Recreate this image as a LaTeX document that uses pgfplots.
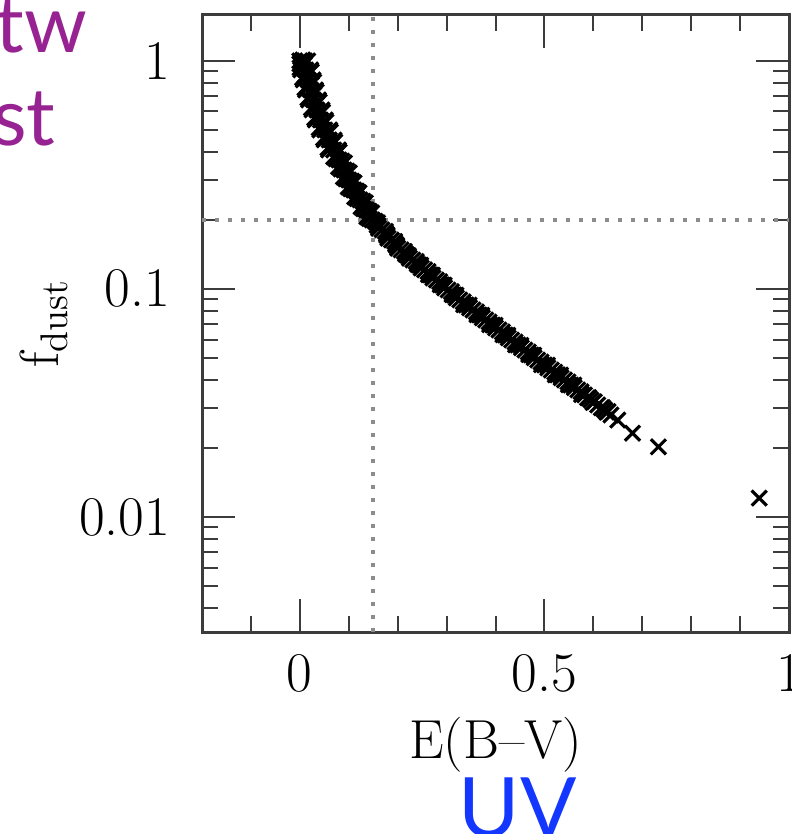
\documentclass[border=0pt]{standalone}
\usepackage{fontspec}
\usepackage{pgfplots}
\pgfplotsset{compat=1.18}
\newfontfamily\latofont{Lato}
\definecolor{slidepurple}{RGB}{150,35,145}
\definecolor{slideblue}{RGB}{20,55,255}
\definecolor{framegray}{RGB}{60,60,60}
\pgfplotsset{bandpt/.style={only marks, mark=x, mark size=3.2pt, mark options={line width=0.95pt, black}}}

\begin{document}
\begin{tikzpicture}
\begin{axis}[
  name=ax,
  scale only axis,
  width=176.1pt, height=185.1pt,
  xmin=-0.2, xmax=1.0,
  ymode=log, ymin=0.00313, ymax=1.59,
  xtick={0,0.5,1}, xticklabels={0,0.5,1},
  minor xtick={-0.1,0.1,0.2,0.3,0.4,0.6,0.7,0.8,0.9},
  ytick={0.01,0.1,1}, yticklabels={0.01,0.1,1},
  minor ytick={0.004,0.005,0.006,0.007,0.008,0.009,0.02,0.03,0.04,0.05,0.06,0.07,0.08,0.09,0.2,0.3,0.4,0.5,0.6,0.7,0.8,0.9},
  tick align=inside,
  xtick pos=both, ytick pos=both,
  major tick length=9.8pt, minor tick length=4.8pt,
  tick label style={font=\fontsize{16.8}{20}\selectfont},
  xticklabel shift=3.2pt, yticklabel shift=6pt,
  axis line style={line width=0.9pt, framegray},
  every tick/.style={line width=0.6pt, framegray},
  xlabel={E(B--V)},
  ylabel={$\mathrm{f_{dust}}$},
  label style={font=\fontsize{16.5}{20}\selectfont},
  xlabel style={at={(axis description cs:0.5,-0.183)}, anchor=center},
  ylabel style={at={(axis description cs:-0.269,0.5)}, anchor=center},
]
% dotted reference lines
\addplot[black!45, line width=1.2pt, dash pattern=on 1.2pt off 2.7pt] coordinates {(0.15,0.00313) (0.15,1.59)};
\addplot[black!45, line width=1.2pt, dash pattern=on 1.2pt off 2.7pt] coordinates {(-0.2,0.2) (1.0,0.2)};
% band of points (centre)
\addplot[bandpt] table {
x y
0.006 1.010
0.009 0.9604
0.012 0.9131
0.014 0.8681
0.017 0.8254
0.019 0.7847
0.022 0.7461
0.025 0.7093
0.028 0.6744
0.031 0.6412
0.035 0.6096
0.039 0.5796
0.042 0.5510
0.046 0.5239
0.051 0.4981
0.055 0.4736
0.060 0.4502
0.065 0.4281
0.069 0.4070
0.074 0.3870
0.080 0.3679
0.085 0.3498
0.090 0.3326
0.095 0.3162
0.100 0.3006
0.105 0.2858
0.110 0.2718
0.117 0.2584
0.123 0.2457
0.129 0.2336
0.136 0.2221
0.142 0.2111
0.148 0.2007
0.158 0.1909
0.168 0.1815
0.178 0.1725
0.187 0.1640
0.197 0.1560
0.207 0.1483
0.219 0.1410
0.231 0.1340
0.243 0.1274
0.255 0.1212
0.267 0.1152
0.279 0.1095
0.291 0.1041
0.303 0.0990
0.315 0.0941
0.327 0.0895
0.340 0.0851
0.354 0.0809
0.367 0.0769
0.380 0.0731
0.394 0.0695
0.407 0.0661
0.420 0.0628
0.433 0.0597
0.446 0.0568
0.460 0.0540
0.473 0.0513
0.486 0.0488
0.500 0.0464
0.514 0.0441
0.527 0.0420
0.541 0.0399
0.554 0.0379
0.568 0.0361
0.582 0.0343
0.595 0.0326
0.609 0.0310
0.623 0.0295
0.636 0.0280
0.650 0.0266
0.680 0.0233
0.733 0.0203
0.939 0.0121
};
% inner upper-left points
\addplot[bandpt] table {
x y
0.000 1.000
0.000 0.970
0.002 0.9131
0.007 0.8254
0.012 0.7461
0.018 0.6744
0.025 0.6096
0.032 0.5510
0.041 0.4981
0.050 0.4502
0.059 0.4070
0.074 0.3720
0.084 0.3360
0.094 0.3040
0.104 0.2750
0.117 0.2490
0.130 0.2250
0.142 0.2035
0.161 0.1845
0.180 0.1670
0.200 0.1510
0.224 0.1365
0.248 0.1236
0.272 0.1118
0.296 0.1011
0.320 0.0914
0.347 0.0826
0.373 0.0747
0.400 0.0675
0.426 0.0610
0.453 0.0552
0.479 0.0499
0.507 0.0451
0.534 0.0408
0.561 0.0369
0.588 0.0333
0.616 0.0301
};
% inner lower-right points
\addplot[bandpt] table {
x y
0.010 1.000
0.016 1.000
0.022 0.9131
0.027 0.8254
0.032 0.7461
0.038 0.6744
0.045 0.6096
0.052 0.5510
0.061 0.4981
0.070 0.4502
0.079 0.4070
0.086 0.3640
0.096 0.3290
0.106 0.2970
0.116 0.2685
0.129 0.2425
0.142 0.2192
0.154 0.1980
0.175 0.1788
0.194 0.1615
0.214 0.1460
0.238 0.1318
0.262 0.1192
0.286 0.1076
0.310 0.0972
0.334 0.0878
0.361 0.0793
0.387 0.0716
0.414 0.0648
0.440 0.0585
0.467 0.0529
0.493 0.0478
0.521 0.0432
0.548 0.0391
0.575 0.0354
0.602 0.0320
0.630 0.0290
};
% outer upper-left edge of the band
\addplot[bandpt] table {
x y
0.0005 0.932
0.0055 0.842
0.0105 0.761
0.0165 0.688
0.0235 0.622
0.0305 0.562
0.0395 0.508
0.0485 0.459
0.0575 0.415
0.069 0.379
0.079 0.343
0.089 0.310
0.099 0.280
0.112 0.253
0.125 0.229
0.137 0.207
0.159 0.1893
0.178 0.1711
0.198 0.1547
0.222 0.1398
0.247 0.1271
0.271 0.1149
0.295 0.1039
0.319 0.0939
0.346 0.0849
0.372 0.0767
0.399 0.0693
0.425 0.0626
0.452 0.0566
0.478 0.0512
0.506 0.0463
0.533 0.0419
0.560 0.0379
0.591 0.0334
0.619 0.0302
};
% outer lower-right edge of the band
\addplot[bandpt] table {
x y
0.0235 0.895
0.0285 0.809
0.0335 0.731
0.0395 0.661
0.0465 0.597
0.0535 0.540
0.0625 0.488
0.0715 0.441
0.0805 0.399
0.091 0.357
0.101 0.323
0.111 0.292
0.121 0.264
0.134 0.2385
0.147 0.2156
0.159 0.1949
0.177 0.1740
0.196 0.1572
0.216 0.1422
0.240 0.1285
0.263 0.1155
0.287 0.1044
0.311 0.0944
0.335 0.0853
0.362 0.0771
0.388 0.0697
0.415 0.0630
0.441 0.0569
0.468 0.0515
0.494 0.0465
0.522 0.0420
0.549 0.0380
0.576 0.0344
0.599 0.0318
0.627 0.0288
};
\end{axis}
% slide overlay text (cropped)
\node[anchor=base east, inner sep=0pt, text=slidepurple, font=\latofont\fontsize{24}{29}\selectfont] at ([shift={(-34.2pt,173.7pt)}]ax.south west) {tw};
\node[anchor=base east, inner sep=0pt, text=slidepurple, font=\latofont\fontsize{24}{29}\selectfont] at ([shift={(-43.8pt,145.8pt)}]ax.south west) {st};
\node[anchor=base west, inner sep=0pt, text=slideblue, font=\latofont\fontsize{25}{30}\selectfont] at ([shift={(76.8pt,-61.5pt)}]ax.south west) {UV};
\pgfresetboundingbox
\path[use as bounding box] ([shift={(-60.6pt,-60.6pt)}]ax.south west) rectangle ([shift={(0.6pt,4.5pt)}]ax.north east);
\end{tikzpicture}
\end{document}
